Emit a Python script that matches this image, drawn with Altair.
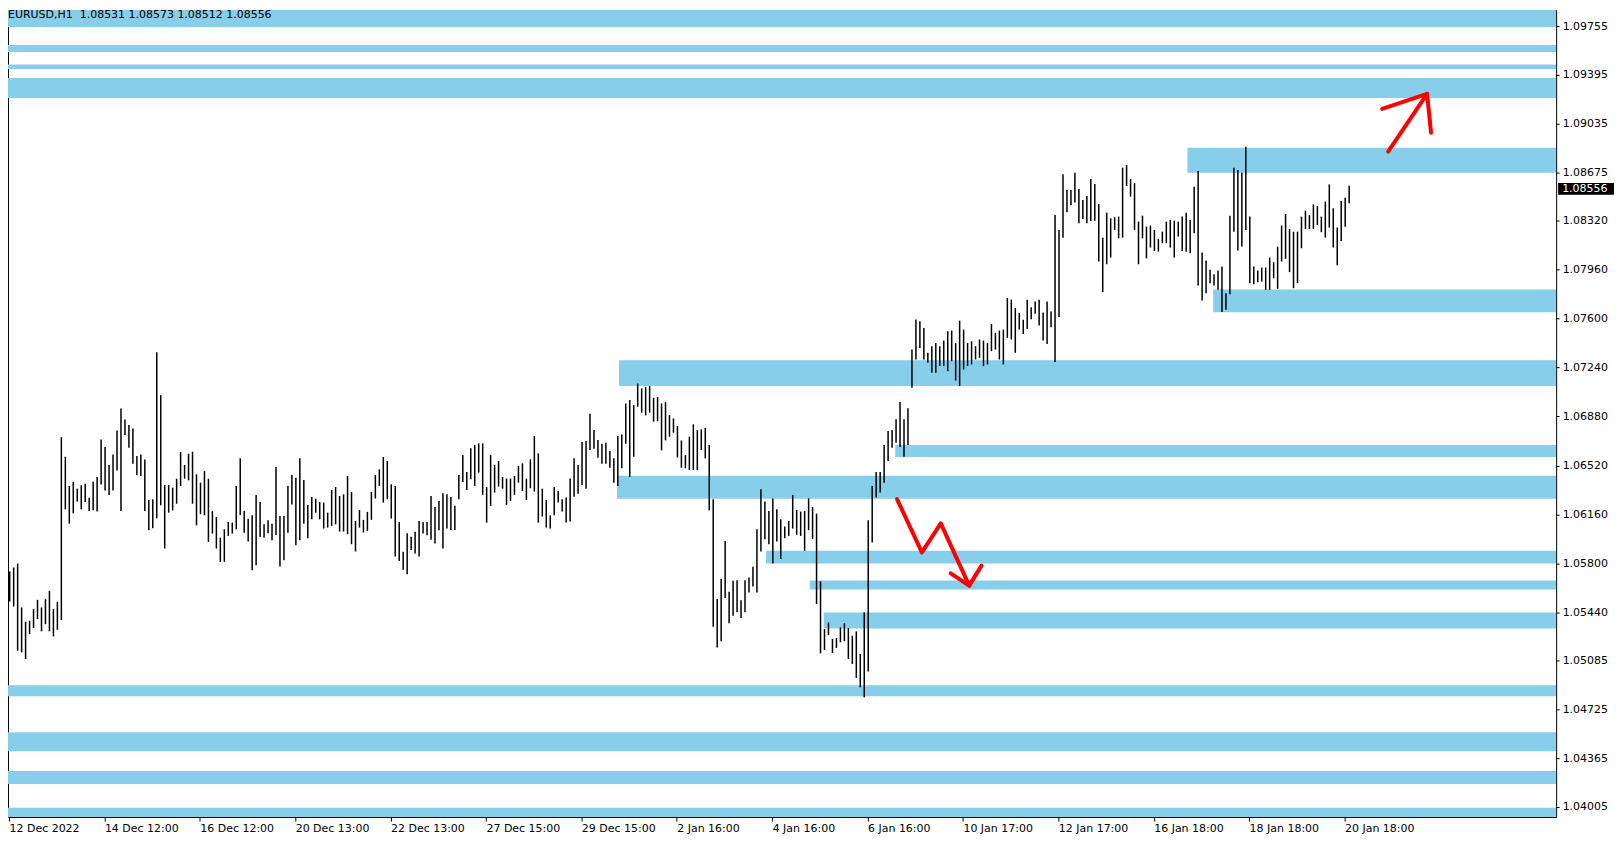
import altair as alt
import pandas as pd

# ---- price series (H1 chart, read as 2-hour high/low pairs) ----
highs = [
    1.05739, 1.05768, 1.05797, 1.05474, 1.05369, 1.05376, 1.05462, 1.05530, 1.05474, 1.05535,
    1.05596, 1.05462, 1.05516, 1.06728, 1.06584, 1.06368, 1.06398, 1.06349, 1.06373, 1.06385,
    1.06282, 1.06400, 1.06434, 1.06711, 1.06655, 1.06523, 1.06601, 1.06777, 1.06939, 1.06858,
    1.06817, 1.06792, 1.06589, 1.06601, 1.06564, 1.06265, 1.06270, 1.07353, 1.07037, 1.06376,
    1.06376, 1.06356, 1.06422, 1.06618, 1.06523, 1.06606, 1.06621, 1.06454, 1.06393, 1.06478,
    1.06422, 1.06184, 1.06140, 1.05988, 1.06050, 1.06104, 1.06099, 1.06368, 1.06572, 1.06184,
    1.06128, 1.06153, 1.06302, 1.06251, 1.06086, 1.06116, 1.06091, 1.06508, 1.06148, 1.06148,
    1.06368, 1.06449, 1.06429, 1.06572, 1.06412, 1.06229, 1.06287, 1.06275, 1.06251, 1.06246,
    1.06172, 1.06339, 1.06361, 1.06295, 1.06307,
    1.06442, 1.06325, 1.06111, 1.06192, 1.06119, 1.06178, 1.06325, 1.06450, 1.06491, 1.06582,
    1.06552, 1.06381, 1.06369, 1.06104, 1.05884, 1.06021, 1.05994, 1.06031, 1.06111, 1.06104,
    1.06104, 1.06295, 1.06214, 1.06258, 1.06315, 1.06307, 1.06288, 1.06222, 1.06450, 1.06597,
    1.06472, 1.06646, 1.06670, 1.06682, 1.06682, 1.06361, 1.06597, 1.06523, 1.06552, 1.06435,
    1.06423, 1.06423, 1.06442, 1.06516, 1.06535, 1.06423, 1.06565, 1.06736, 1.06609, 1.06349,
    1.06266, 1.06153, 1.06361, 1.06332, 1.06271, 1.06283, 1.06423, 1.06572, 1.06523, 1.06692,
    1.06699, 1.06900, 1.06780, 1.06707, 1.06680, 1.06687, 1.06626, 1.06572, 1.06736, 1.06748,
    1.06976, 1.07001, 1.06964, 1.07123, 1.07087, 1.07096, 1.07104, 1.07018, 1.07023, 1.06976,
    1.06986, 1.06891, 1.06866, 1.06810, 1.06704,
    1.06597, 1.06731, 1.06822, 1.06780, 1.06785, 1.06797, 1.06670, 1.06271, 1.05536, 1.05683,
    1.05964, 1.05590, 1.05670, 1.05675, 1.05528, 1.05675, 1.05695, 1.05773, 1.06050, 1.06344,
    1.06254, 1.06185, 1.06276, 1.06197, 1.06124, 1.06070, 1.06111, 1.06303, 1.06192, 1.06180,
    1.06185, 1.06278, 1.06214, 1.06165, 1.05666, 1.05315, 1.05364, 1.05242, 1.05249, 1.05327,
    1.05357, 1.05323, 1.05266, 1.05298, 1.05131, 1.05438, 1.06116, 1.06369, 1.06472, 1.06472,
    1.06670, 1.06773, 1.06780, 1.06859, 1.06986, 1.06859, 1.06940, 1.07373, 1.07594, 1.07581,
    1.07532, 1.07349, 1.07398, 1.07422, 1.07398, 1.07439, 1.07508, 1.07513, 1.07422, 1.07586,
    1.07520, 1.07422, 1.07434, 1.07398, 1.07447, 1.07439, 1.07422, 1.07562, 1.07496, 1.07513,
    1.07520, 1.07753, 1.07741, 1.07679, 1.07643,
    1.07592, 1.07739, 1.07685, 1.07727, 1.07739, 1.07646, 1.07727, 1.07653, 1.08364, 1.08254,
    1.08663, 1.08548, 1.08548, 1.08675, 1.08555, 1.08474, 1.08504, 1.08629, 1.08592, 1.08445,
    1.08197, 1.08381, 1.08339, 1.08347, 1.08352, 1.08712, 1.08731, 1.08629, 1.08599, 1.08315,
    1.08359, 1.08278, 1.08286, 1.08254, 1.08188, 1.08241, 1.08315, 1.08327, 1.08322, 1.08315,
    1.08352, 1.08381, 1.08327, 1.08572, 1.08687, 1.08087, 1.08028, 1.07960, 1.07928, 1.07955,
    1.07984, 1.07788, 1.08359, 1.08712, 1.08695, 1.08675, 1.08866, 1.08352, 1.07984, 1.07955,
    1.07977, 1.07977, 1.08050, 1.08016, 1.08131, 1.08286, 1.08371, 1.08261, 1.08241, 1.08241,
    1.08352, 1.08396, 1.08364, 1.08442, 1.08430, 1.08352, 1.08462, 1.08589, 1.08413, 1.08271,
    1.08467, 1.08491, 1.08580,
]
lows = [
    1.05518, 1.05481, 1.05155, 1.05143, 1.05094, 1.05278, 1.05322, 1.05388, 1.05298, 1.05351,
    1.05298, 1.05261, 1.05310, 1.05381, 1.06197, 1.06091, 1.06167, 1.06253, 1.06197, 1.06251,
    1.06184, 1.06189, 1.06180, 1.06380, 1.06336, 1.06302, 1.06336, 1.06483, 1.06184, 1.06743,
    1.06650, 1.06532, 1.06449, 1.06442, 1.06184, 1.06042, 1.06057, 1.06131, 1.06226, 1.05908,
    1.06172, 1.06189, 1.06238, 1.06368, 1.06422, 1.06410, 1.06238, 1.06079, 1.06160, 1.06153,
    1.05957, 1.06018, 1.05908, 1.05810, 1.05810, 1.06001, 1.06018, 1.06050, 1.06155, 1.06025,
    1.05959, 1.05748, 1.05785, 1.05993, 1.05988, 1.06020, 1.05969, 1.06008, 1.05775, 1.05822,
    1.06025, 1.06233, 1.05932, 1.05969, 1.06091, 1.05984, 1.06123, 1.06172, 1.06123, 1.06055,
    1.06062, 1.06074, 1.06086, 1.06033, 1.06033,
    1.06013, 1.05940, 1.05886, 1.06062, 1.06026, 1.06038, 1.06119, 1.06276, 1.06369, 1.06246,
    1.06271, 1.06129, 1.05849, 1.05817, 1.05751, 1.05719, 1.05898, 1.05871, 1.05849, 1.06018,
    1.06006, 1.05972, 1.05945, 1.06043, 1.05908, 1.06055, 1.06045, 1.06045, 1.06271, 1.06398,
    1.06339, 1.06418, 1.06369, 1.06467, 1.06303, 1.06099, 1.06222, 1.06320, 1.06364, 1.06349,
    1.06229, 1.06258, 1.06303, 1.06393, 1.06332, 1.06266, 1.06352, 1.06327, 1.06099, 1.06143,
    1.06062, 1.06055, 1.06153, 1.06246, 1.06180, 1.06099, 1.06107, 1.06290, 1.06312, 1.06376,
    1.06349, 1.06633, 1.06643, 1.06577, 1.06533, 1.06533, 1.06503, 1.06393, 1.06369, 1.06499,
    1.06680, 1.06435, 1.06584, 1.06952, 1.06908, 1.06888, 1.06908, 1.06842, 1.06846, 1.06631,
    1.06704, 1.06731, 1.06761, 1.06577, 1.06503,
    1.06499, 1.06486, 1.06486, 1.06486, 1.06633, 1.06572, 1.06190, 1.05332, 1.05180, 1.05225,
    1.05543, 1.05357, 1.05413, 1.05438, 1.05396, 1.05438, 1.05585, 1.05629, 1.05585, 1.05886,
    1.05977, 1.05940, 1.05798, 1.05960, 1.05830, 1.05984, 1.06001, 1.06055, 1.06009, 1.06001,
    1.05891, 1.06043, 1.05977, 1.05499, 1.05136, 1.05161, 1.05271, 1.05139, 1.05176, 1.05217,
    1.05225, 1.05095, 1.05058, 1.04955, 1.04886, 1.04813, 1.05002, 1.05952, 1.06283, 1.06320,
    1.06393, 1.06552, 1.06650, 1.06687, 1.06655, 1.06584, 1.06670, 1.07091, 1.07300, 1.07385,
    1.07300, 1.07275, 1.07202, 1.07202, 1.07251, 1.07251, 1.07214, 1.07287, 1.07145, 1.07104,
    1.07226, 1.07251, 1.07263, 1.07300, 1.07312, 1.07251, 1.07263, 1.07361, 1.07373, 1.07300,
    1.07263, 1.07459, 1.07447, 1.07349, 1.07520,
    1.07487, 1.07524, 1.07597, 1.07636, 1.07551, 1.07440, 1.07413, 1.07538, 1.07281, 1.07612,
    1.08197, 1.08384, 1.08437, 1.08455, 1.08303, 1.08335, 1.08303, 1.08320, 1.08322, 1.08021,
    1.07796, 1.08001, 1.08050, 1.08254, 1.08192, 1.08197, 1.08577, 1.08499, 1.08254, 1.08001,
    1.08192, 1.08045, 1.08124, 1.08099, 1.08094, 1.08156, 1.08156, 1.08124, 1.08050, 1.08205,
    1.08099, 1.08094, 1.08082, 1.08229, 1.07845, 1.07734, 1.07788, 1.07862, 1.07845, 1.07813,
    1.07649, 1.07666, 1.07781, 1.08241, 1.08102, 1.08131, 1.08254, 1.07862, 1.07854, 1.07869,
    1.07874, 1.07813, 1.07813, 1.07898, 1.07820, 1.08021, 1.08041, 1.07943, 1.07825, 1.07862,
    1.08119, 1.08261, 1.08261, 1.08261, 1.08290, 1.08237, 1.08197, 1.08271, 1.08124, 1.07994,
    1.08173, 1.08278, 1.08450,
]
bar_index = list(range(1, len(highs) + 1))

# ---- horizontal zones (start bar index, lower price, upper price) ----
zone_start = [0.0, 0.0, 0.0, 0.0, 297.3, 303.8, 154.3, 223.8, 153.8, 191.3, 202.3, 205.8, 0.0, 0.0, 0.0, 0.0]
zone_low = [1.09748, 1.09564, 1.09439, 1.09226, 1.08675, 1.07647, 1.07104, 1.06582,
            1.06274, 1.05797, 1.05606, 1.05319, 1.04820, 1.04416, 1.04174, 1.03850]
zone_high = [1.09900, 1.09615, 1.09471, 1.09373, 1.08859, 1.07816, 1.07295, 1.06671,
             1.06443, 1.05892, 1.05672, 1.05437, 1.04901, 1.04555, 1.04269, 1.04000]

# ---- hand-drawn red arrows (segment id, bar index, price) ----
arrow_seg = [1, 1, 1, 1, 2, 2, 2, 3, 3, 4, 4, 4]
arrow_idx = [224.25, 230.5, 235.25, 242.4, 237.75, 242.4, 245.5, 347.8, 357.6, 346.3, 357.6, 358.6]
arrow_price = [1.06272, 1.05880, 1.06093, 1.05635, 1.05725, 1.05635, 1.05782,
               1.08830, 1.09256, 1.09145, 1.09256, 1.08969]

# ---- axes ----
x_labels = ["12 Dec 2022", "14 Dec 12:00", "16 Dec 12:00", "20 Dec 13:00", "22 Dec 13:00",
            "27 Dec 15:00", "29 Dec 15:00", "2 Jan 16:00", "4 Jan 16:00", "6 Jan 16:00",
            "10 Jan 17:00", "12 Jan 17:00", "16 Jan 18:00", "18 Jan 18:00", "20 Jan 18:00"]
x_label_pos = [0.825 + 24 * i for i in range(len(x_labels))]
y_ticks = [1.04005, 1.04365, 1.04725, 1.05085, 1.05440, 1.05800, 1.06160, 1.06520, 1.06880,
           1.07240, 1.07600, 1.07960, 1.08320, 1.08675, 1.09035, 1.09395, 1.09755]

last_price = 1.08556
title_text = "EURUSD,H1\u00a0\u00a01.08531 1.08573 1.08512 1.08556"

X_MIN, X_MAX = 0.575, 390.075
Y_MIN, Y_MAX = 1.03931, 1.09873
W, H = 1552, 809
FONT = "DejaVu Sans"

bars = pd.DataFrame({"k": bar_index, "hi": highs, "lo": lows})
zones = pd.DataFrame({"start": zone_start, "end": [X_MAX] * len(zone_start),
                      "lo": zone_low, "hi": zone_high})
arrows = pd.DataFrame({"seg": arrow_seg, "ord": list(range(len(arrow_seg))),
                       "k": arrow_idx, "p": arrow_price})
tag = pd.DataFrame({"p": [last_price], "p0": [last_price - 0.00044], "p1": [last_price + 0.00044],
                    "label": [f"{last_price:.5f}"]})
title_df = pd.DataFrame({"t": [title_text]})

xs = alt.Scale(domain=[X_MIN, X_MAX], nice=False, zero=False)
ys = alt.Scale(domain=[Y_MIN, Y_MAX], nice=False, zero=False)

label_array = "[" + ",".join(f"'{s}'" for s in x_labels) + "]"
x_axis = alt.Axis(values=x_label_pos, labelExpr=f"{label_array}[round((datum.value - 0.825) / 24)]",
                  labelAlign="left", tickSize=4, labelPadding=2, domain=False, grid=False,
                  title=None, labelOverlap=False, labelFlush=False, tickColor="black",
                  labelFont=FONT, labelFontSize=11, labelColor="black")
y_axis = alt.Axis(orient="right", values=y_ticks, format=".5f", tickSize=3, labelPadding=3,
                  domain=False, grid=False, title=None, labelOverlap=False, labelFlush=False,
                  tickColor="black", labelFont=FONT, labelFontSize=11, labelColor="black")


def X(field):
    return alt.X(field, type="quantitative", scale=xs, axis=x_axis, title=None)


def Y(field):
    return alt.Y(field, type="quantitative", scale=ys, axis=y_axis, title=None)


zone_layer = alt.Chart(zones).mark_rect(color="#87CEEB", clip=True).encode(
    x=X("start"), x2="end:Q", y=Y("lo"), y2="hi:Q",
)

bar_layer = alt.Chart(bars).mark_rule(color="black", strokeWidth=1.5).encode(
    x=X("k"), y=Y("lo"), y2="hi:Q",
)

arrow_layer = alt.Chart(arrows).mark_line(color="#FF0000", strokeWidth=4, strokeCap="round",
                                          strokeJoin="round").encode(
    x=X("k"), y=Y("p"), detail="seg:N", order="ord:Q",
)

tag_box = alt.Chart(tag).mark_rect(color="black").encode(
    x=alt.value(W + 2), x2=alt.value(W + 58), y=Y("p1"), y2="p0:Q",
)
tag_text = alt.Chart(tag).mark_text(color="white", align="left", baseline="middle",
                                    font=FONT, fontSize=11).encode(
    x=alt.value(W + 6), y=Y("p"), text="label:N",
)

title_layer = alt.Chart(title_df).mark_text(color="black", align="left", baseline="middle",
                                            font=FONT, fontSize=11).encode(
    x=alt.value(0), y=alt.value(5), text="t:N",
)

chart = alt.layer(zone_layer, bar_layer, arrow_layer, tag_box, tag_text, title_layer).properties(
    width=W, height=H, padding={"left": 0, "top": 0, "right": 2, "bottom": 2},
    background="white",
).configure_view(stroke="black", strokeWidth=1)

chart.save("out.html", embed_options={"renderer": "svg", "actions": False})
